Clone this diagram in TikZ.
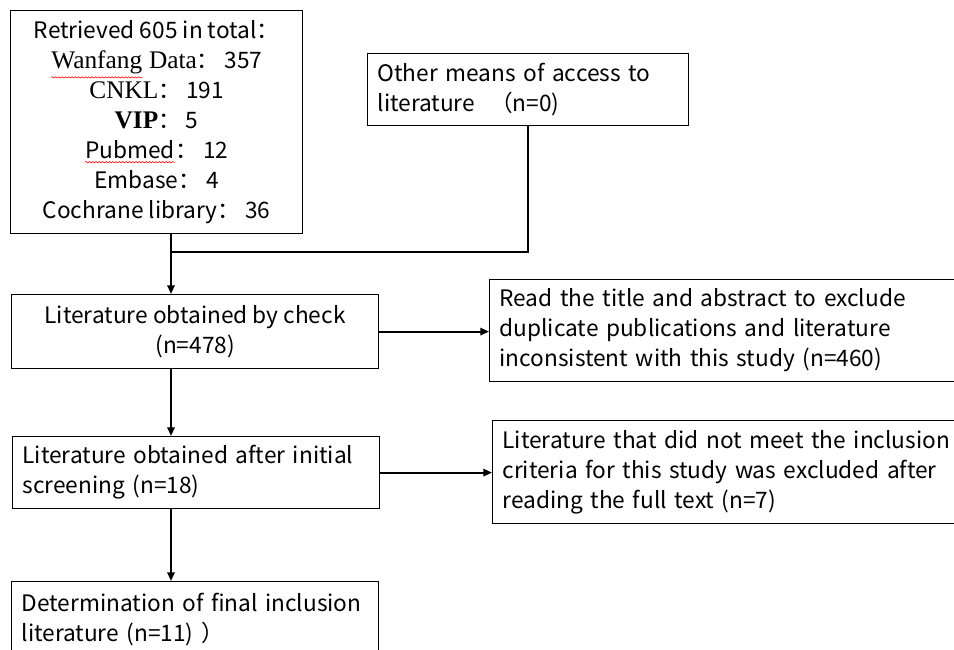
\documentclass[tikz,border=0pt]{standalone}
\usepackage{fontspec}
\setmainfont{Noto Sans CJK SC}
\newfontfamily\dbfont{Liberation Serif}
\usetikzlibrary{arrows.meta,decorations.pathmorphing}

\newcommand\wavemark[1]{\tikz[baseline=(w.base),x=1cm,y=1cm]{\node[inner sep=0pt,draw=none,minimum width=0pt,minimum height=0pt,text width=,align=none,font=,anchor=center] (w) {#1};
    \draw[red,line width=0.45pt,decorate,decoration={snake,amplitude=0.5pt,segment length=2.5pt}] ([yshift=-2.5pt]w.south west) -- ([yshift=-2.5pt]w.south east);}}

\begin{document}
\begin{tikzpicture}[x=0.75pt,y=0.75pt,yscale=-1,xscale=1,
    box/.style={draw,line width=0.9pt,anchor=north west,inner xsep=7.5pt,inner ysep=0pt,font=\fontsize{17}{22.5}\selectfont},
    flow/.style={line width=1.4pt,-{Triangle[length=6.5pt,width=5.5pt]}}]
    \useasboundingbox (0,0) rectangle (954,650);
    % boxes
    \node[box,align=center,minimum width=219pt,minimum height=167pt] (total) at (10,10) {Retrieved 605 in total：\\
        {\dbfont\fontsize{19}{22.5}\selectfont\wavemark{Wanfang} Data}：\ 357\\
        {\dbfont\fontsize{19}{22.5}\selectfont CNKL}：\ 191\\
        {\dbfont\bfseries\fontsize{19}{22.5}\selectfont VIP}：\ 5\\
        \wavemark{Pubmed}：\ 12\\
        Embase：\ 4\\
        Cochrane library：\ 36};
    \node[box,align=left,text width=225.75pt,minimum height=54pt] (other) at (367,53) {Other means of access to\\ literature\ \ （n=0)};
    \node[box,align=center,minimum width=275.25pt,minimum height=55.5pt] (check) at (11,294) {Literature obtained by check\\ (n=478)};
    \node[box,align=left,text width=341.25pt,minimum height=76.5pt] (read) at (489,279) {Read the title and abstract to exclude\\ duplicate publications and literature\\ inconsistent with this study (n=460)};
    \node[box,align=left,text width=260.25pt,minimum height=54pt] (screen) at (12,436) {Literature obtained after initial\\ screening (n=18)};
    \node[box,align=left,text width=339pt,minimum height=77.25pt] (full) at (492,420) {Literature that did not meet the inclusion\\ criteria for this study was excluded after\\ reading the full text (n=7)};
    \node[box,align=left,text width=260.25pt,minimum height=56.25pt] (final) at (11,581) {Determination of final inclusion\\ literature (n=11) ）};
    % connectors
    \coordinate (trunk) at (171,252);
    \coordinate (side) at (528,252);
    \draw[line width=1.4pt] (other.south -| side) -- (side) -- (trunk);
    \draw[flow] (trunk |- total.south) -- (trunk |- check.north);
    \draw[flow] (check.east) -- (check.east -| read.west);
    \draw[flow] (check.south -| trunk) -- (screen.north -| trunk);
    \draw[flow] (screen.east) -- (screen.east -| full.west);
    \draw[flow] (screen.south -| trunk) -- (final.north -| trunk);
\end{tikzpicture}
\end{document}
